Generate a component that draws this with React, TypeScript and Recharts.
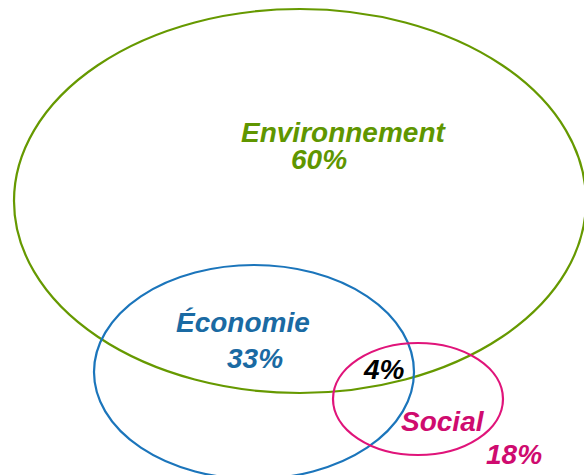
import { ScatterChart, Scatter, XAxis, YAxis } from 'recharts';

// Venn-style chart: three sets, their shares and the triple overlap
const sets = ['Environnement', 'Économie', 'Social'];
const shares = [60, 33, 18];
const overlapShare = 4;

// layout in chart units (domain == pixels)
const W = 584;
const H = 475;
const centersX = [300, 254, 418];
const centersY = [201, 372, 399];
const radiiX = [286, 160, 85];
const radiiY = [192, 107, 56];
const nameAt = [[241, 142], [176, 332], [401, 431]];
const shareAt = [[291, 169], [227, 368], [486, 464]];
const overlapAt = [364, 379];

const strokeColors = ['#669900', '#1b75bb', '#e0147a'];
const textColors = ['#5f9600', '#1a6aa3', '#cf0b6f'];

const ellipses = sets.map((name, i) => ({
  name, x: centersX[i], y: centersY[i], rx: radiiX[i], ry: radiiY[i], color: strokeColors[i],
}));

const labels = [
  ...sets.map((name, i) => ({ x: nameAt[i][0], y: nameAt[i][1], text: name, color: textColors[i] })),
  ...shares.map((v, i) => ({ x: shareAt[i][0], y: shareAt[i][1], text: `${v}%`, color: textColors[i] })),
  { x: overlapAt[0], y: overlapAt[1], text: `${overlapShare}%`, color: '#000000' },
];

const EllipseShape = (props: any) => {
  const { cx, cy, payload } = props;
  return (
    <ellipse cx={cx} cy={cy} rx={payload.rx} ry={payload.ry}
      fill="none" stroke={payload.color} strokeWidth={2.2} />
  );
};

const LabelShape = (props: any) => {
  const { cx, cy, payload } = props;
  return (
    <text x={cx} y={cy} fill={payload.color} fontSize={28} fontWeight="bold" fontStyle="italic"
      fontFamily="'Liberation Sans', Arial, sans-serif" textAnchor="start">
      {payload.text}
    </text>
  );
};

export default function App() {
  return (
    <div style={{ position: 'absolute', left: 0, top: 0, background: '#fff' }}>
      <ScatterChart width={W} height={H} margin={{ top: 0, right: 0, bottom: 0, left: 0 }}>
        <XAxis type="number" dataKey="x" domain={[0, W]} hide />
        <YAxis type="number" dataKey="y" domain={[0, H]} reversed hide />
        <Scatter data={ellipses} shape={EllipseShape} isAnimationActive={false} />
        <Scatter data={labels} shape={LabelShape} isAnimationActive={false} />
      </ScatterChart>
    </div>
  );
}
